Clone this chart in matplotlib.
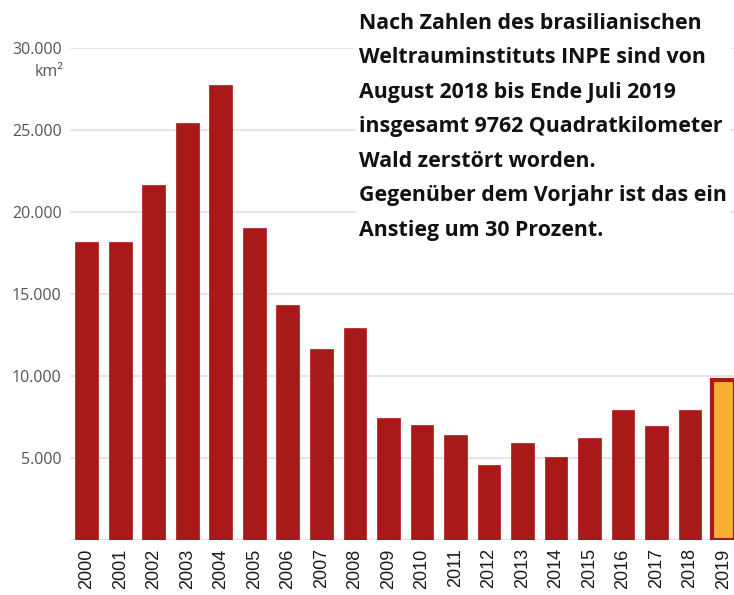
import matplotlib.pyplot as plt

# Abholzung im Amazonasgebiet (km²), INPE
jahre = ['2000', '2001', '2002', '2003', '2004', '2005', '2006', '2007', '2008', '2009',
         '2010', '2011', '2012', '2013', '2014', '2015', '2016', '2017', '2018', '2019']
flaeche = [18200, 18150, 21650, 25400, 27750, 19000, 14300, 11650, 12900, 7450,
           7000, 6400, 4570, 5900, 5050, 6250, 7900, 6950, 7900, 9762]

ytick_werte = [5000, 10000, 15000, 20000, 25000, 30000]
ytick_texte = ['5.000', '10.000', '15.000', '20.000', '25.000', '30.000']

text = ("Nach Zahlen des brasilianischen\n"
        "Weltrauminstituts INPE sind von\n"
        "August 2018 bis Ende Juli 2019\n"
        "insgesamt 9762 Quadratkilometer\n"
        "Wald zerstört worden.\n"
        "Gegenüber dem Vorjahr ist das ein\n"
        "Anstieg um 30 Prozent.")

rot = '#a8191a'
gelb = '#f8b133'

fig = plt.figure(figsize=(7.34, 5.95), dpi=100)
ax = fig.add_axes([70 / 734, 1 - 540 / 595, 1 - 70 / 734, (540 - 48) / 595])

x = range(len(jahre))
farben = [rot] * (len(jahre) - 1) + [gelb]
breiten = [0.5] * (len(jahre) - 1) + [3]
ax.bar(x, flaeche, width=0.68, color=farben, edgecolor=rot,
       linewidth=breiten, zorder=3)

ax.set_xlim(-0.5, 19.31)
ax.set_ylim(0, 30000)
ax.set_yticks([0] + ytick_werte)
ax.set_yticklabels([''] + ytick_texte)
ax.set_xticks(list(x))
ax.set_xticklabels(jahre, rotation=90, fontsize=13, color='#1a1a1a',
                   fontfamily='Liberation Sans')
ax.tick_params(axis='both', length=0)
ax.tick_params(axis='y', pad=6, labelsize=11.5, labelcolor='#555555')
for lab in ax.get_yticklabels():
    lab.set_fontfamily('Open Sans')
ax.tick_params(axis='x', pad=6)
ax.grid(axis='y', color='#e6e6e6', linewidth=1.5, zorder=0)
for s in ax.spines.values():
    s.set_visible(False)

fig.text(63 / 734, 1 - 72 / 595, 'km²', ha='right', va='center',
         fontsize=11.5, color='#555555', fontfamily='Open Sans')

fig.text(359 / 734, 1 - 13 / 595, text, ha='left', va='top', fontsize=15.4,
         fontweight='bold', fontfamily='Open Sans', color='#111111',
         linespacing=1.84,
         bbox=dict(facecolor='white', edgecolor='none', pad=2))

fig.savefig('out.png', dpi=100)
